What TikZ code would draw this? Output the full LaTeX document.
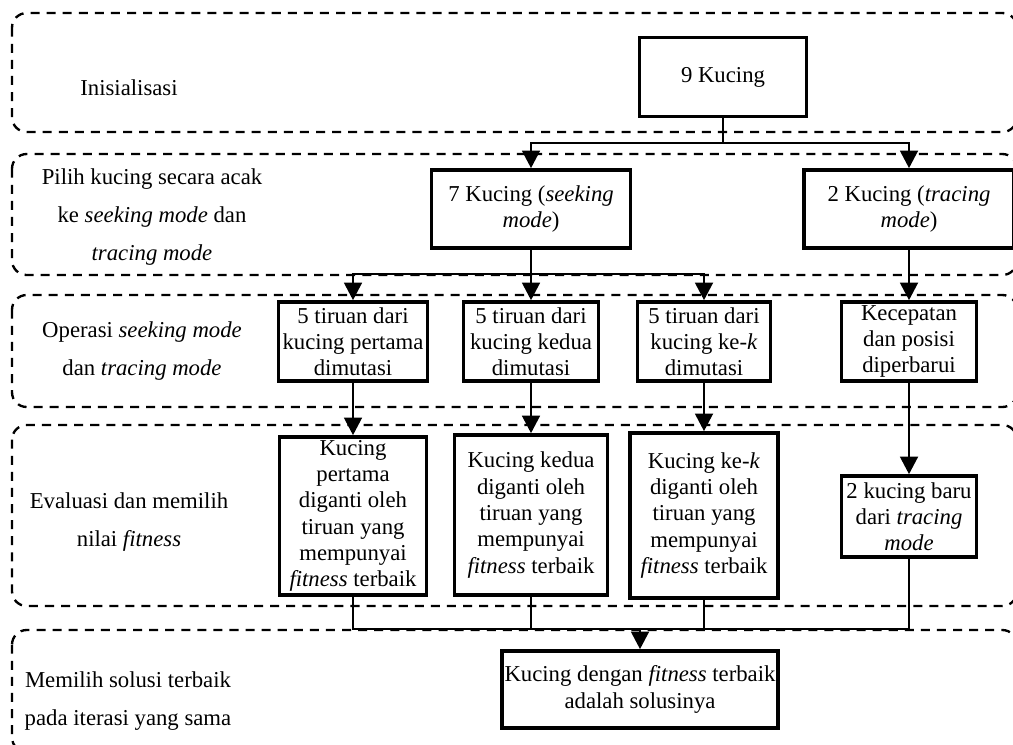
\documentclass[tikz,border=0pt]{standalone}
\usepackage{fontspec}
\setmainfont{Liberation Serif}
\usetikzlibrary{arrows.meta, positioning}

\begin{document}
\begin{tikzpicture}[
    x=0.51pt,
    y=-0.51pt,
    >={Triangle[length=9pt, width=9pt]},
    font=\fontsize{11.6}{13.4}\selectfont,
    band/.style={draw, line width=1.2pt, dash pattern=on 4.6pt off 3.6pt, rounded corners=7.5pt},
    stage/.style={align=center, font=\fontsize{11.6}{19.4}\selectfont},
    box/.style={draw, line width=1.8pt, align=center, inner sep=1pt},
    link/.style={line width=1.5pt},
]

    \useasboundingbox (0,0) rectangle (1013,744);
    \clip (0,0) rectangle (1013,744);

    % the five stages
    \draw[band] (12,13)  rectangle (1017,132);
    \draw[band] (12,154) rectangle (1017,275);
    \draw[band] (12,295) rectangle (1017,407);
    \draw[band] (12,425) rectangle (1017,606);
    \draw[band] (12,630) rectangle (1017,752);

    \node[stage] (L1) at (129,88)  {Inisialisasi};
    \node[stage] (L2) at (152,217) {Pilih kucing secara acak\\ke \textit{seeking mode} dan\\\textit{tracing mode}};
    \node[stage] (L3) at (142,351) {Operasi \textit{seeking mode}\\dan \textit{tracing mode}};
    \node[stage] (L4) at (129,522) {Evaluasi dan memilih\\nilai \textit{fitness}};
    \node[stage] (L5) at (128,701) {Memilih solusi terbaik\\pada iterasi yang sama};

    % boxes
    \node[box, minimum width=85.2pt, minimum height=40.3pt]  (K9) at (723,77)    {9 Kucing};
    \node[box, minimum width=101.5pt, minimum height=39.8pt] (K7) at (531,209)   {7 Kucing (\textit{seeking}\\\textit{mode})};
    \node[box, minimum width=107.1pt, minimum height=39.8pt] (K2) at (909,209)   {2 Kucing (\textit{tracing}\\\textit{mode})};

    \node[box, minimum width=76pt,   minimum height=40.3pt] (A1) at (353,341.5) {5 tiruan dari\\kucing pertama\\dimutasi};
    \node[box, minimum width=68.9pt, minimum height=40.3pt] (A2) at (531,341.5) {5 tiruan dari\\kucing kedua\\dimutasi};
    \node[box, minimum width=67.8pt, minimum height=40.3pt] (A3) at (704,341.5) {5 tiruan dari\\kucing ke-\textit{k}\\dimutasi};
    \node[box, minimum width=68.9pt, minimum height=40.3pt] (A4) at (909,341.5) {Kecepatan\\dan posisi\\diperbarui};

    \node[box, minimum width=75pt,   minimum height=80.6pt] (B1) at (353,516)   {Kucing\\pertama\\diganti oleh\\tiruan yang\\mempunyai\\\textit{fitness} terbaik};
    \node[box, minimum width=78pt,   minimum height=81.6pt] (B2) at (531,515)   {Kucing kedua\\diganti oleh\\tiruan yang\\mempunyai\\\textit{fitness} terbaik};
    \node[box, minimum width=75.5pt, minimum height=84.2pt] (B3) at (704,515.5) {Kucing ke-\textit{k}\\diganti oleh\\tiruan yang\\mempunyai\\\textit{fitness} terbaik};
    \node[box, minimum width=68.9pt, minimum height=41.3pt] (B4) at (909,516.5) {2 kucing baru\\dari \textit{tracing}\\\textit{mode}};

    \node[box, minimum width=140.8pt, minimum height=39.3pt] (F) at (640,689.5) {Kucing dengan \textit{fitness} terbaik\\adalah solusinya};

    % connectors
    \coordinate (s1) at (723,143);
    \coordinate (s2) at (531,274);
    \coordinate (s3) at (640,629);

    \draw[link] (K9) -- (s1);
    \draw[link, ->] (s1) -| (K7);
    \draw[link, ->] (s1) -| (K2);

    \draw[link] (K7) -- (s2);
    \draw[link, ->] (s2) -| (A1);
    \draw[link, ->] (s2) -- (A2);
    \draw[link, ->] (s2) -| (A3);

    \path[link, ->]
        (K2) edge (A4)
        (A1) edge (B1)
        (A2) edge (B2)
        (A3) edge (B3)
        (A4) edge (B4)
    ;

    \foreach \b in {B1, B2, B3, B4}
        \draw[link] (\b) |- (s3);
    \draw[link, ->] (s3) -- (F);
\end{tikzpicture}
\end{document}
